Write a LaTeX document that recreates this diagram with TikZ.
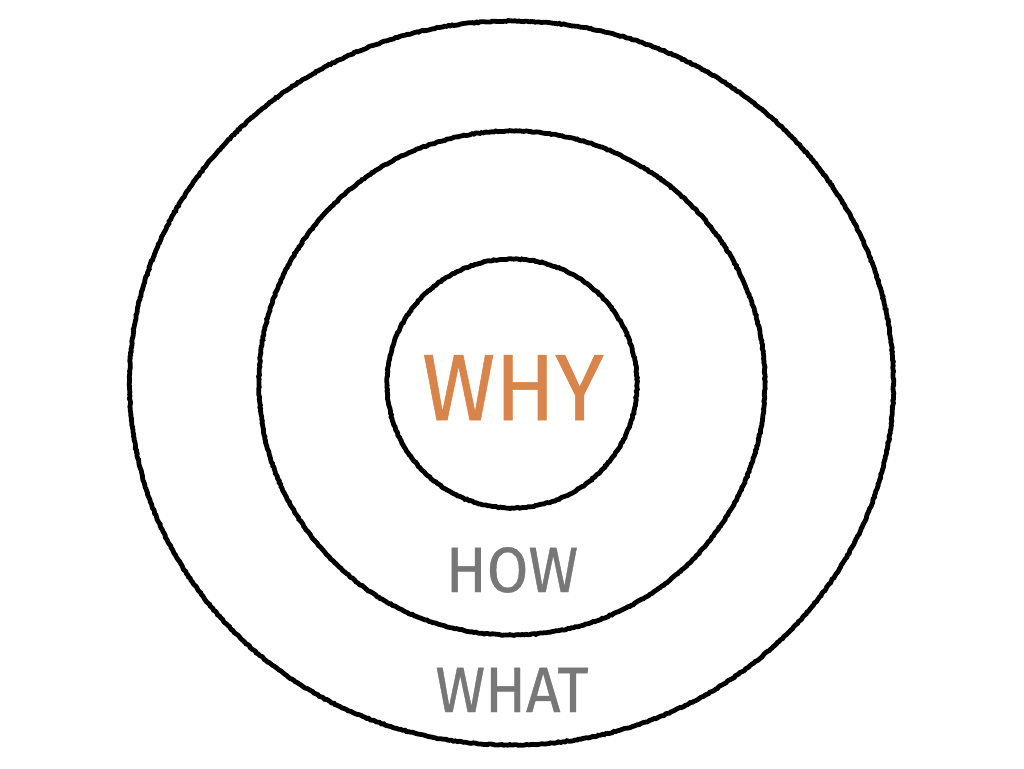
\documentclass[tikz,border=0pt]{standalone}
\usepackage{fontspec}
\setmainfont{Fira Sans}[FakeStretch=0.94,FakeBold=0.6]
\usetikzlibrary{decorations.pathmorphing}
\definecolor{whyorange}{HTML}{D9844A}
\definecolor{howgray}{HTML}{777777}
\begin{document}
\begin{tikzpicture}[x=1pt,y=-1pt,
  ring/.style={draw=black,line width=4.8pt,decorate,decoration={random steps,segment length=2pt,amplitude=0.5pt}},
  lbl/.style={anchor=base,inner sep=0pt,font=\fontsize{64}{64}\selectfont,text=howgray}]
\useasboundingbox[fill=white] (0,0) rectangle (1024,768);
\draw[ring] (511.5,383) ellipse [x radius=382, y radius=362];
\draw[ring] (512,383) ellipse [x radius=253, y radius=252];
\draw[ring] (512,383.5) ellipse [x radius=125, y radius=124.5];
\node[lbl,font=\fontsize{94}{94}\selectfont,text=whyorange] (why) at (513,420) {WHY};
\node[lbl] (how) at (512,592) {HOW};
\node[lbl] (what) at (512,712) {WHAT};
\end{tikzpicture}
\end{document}
